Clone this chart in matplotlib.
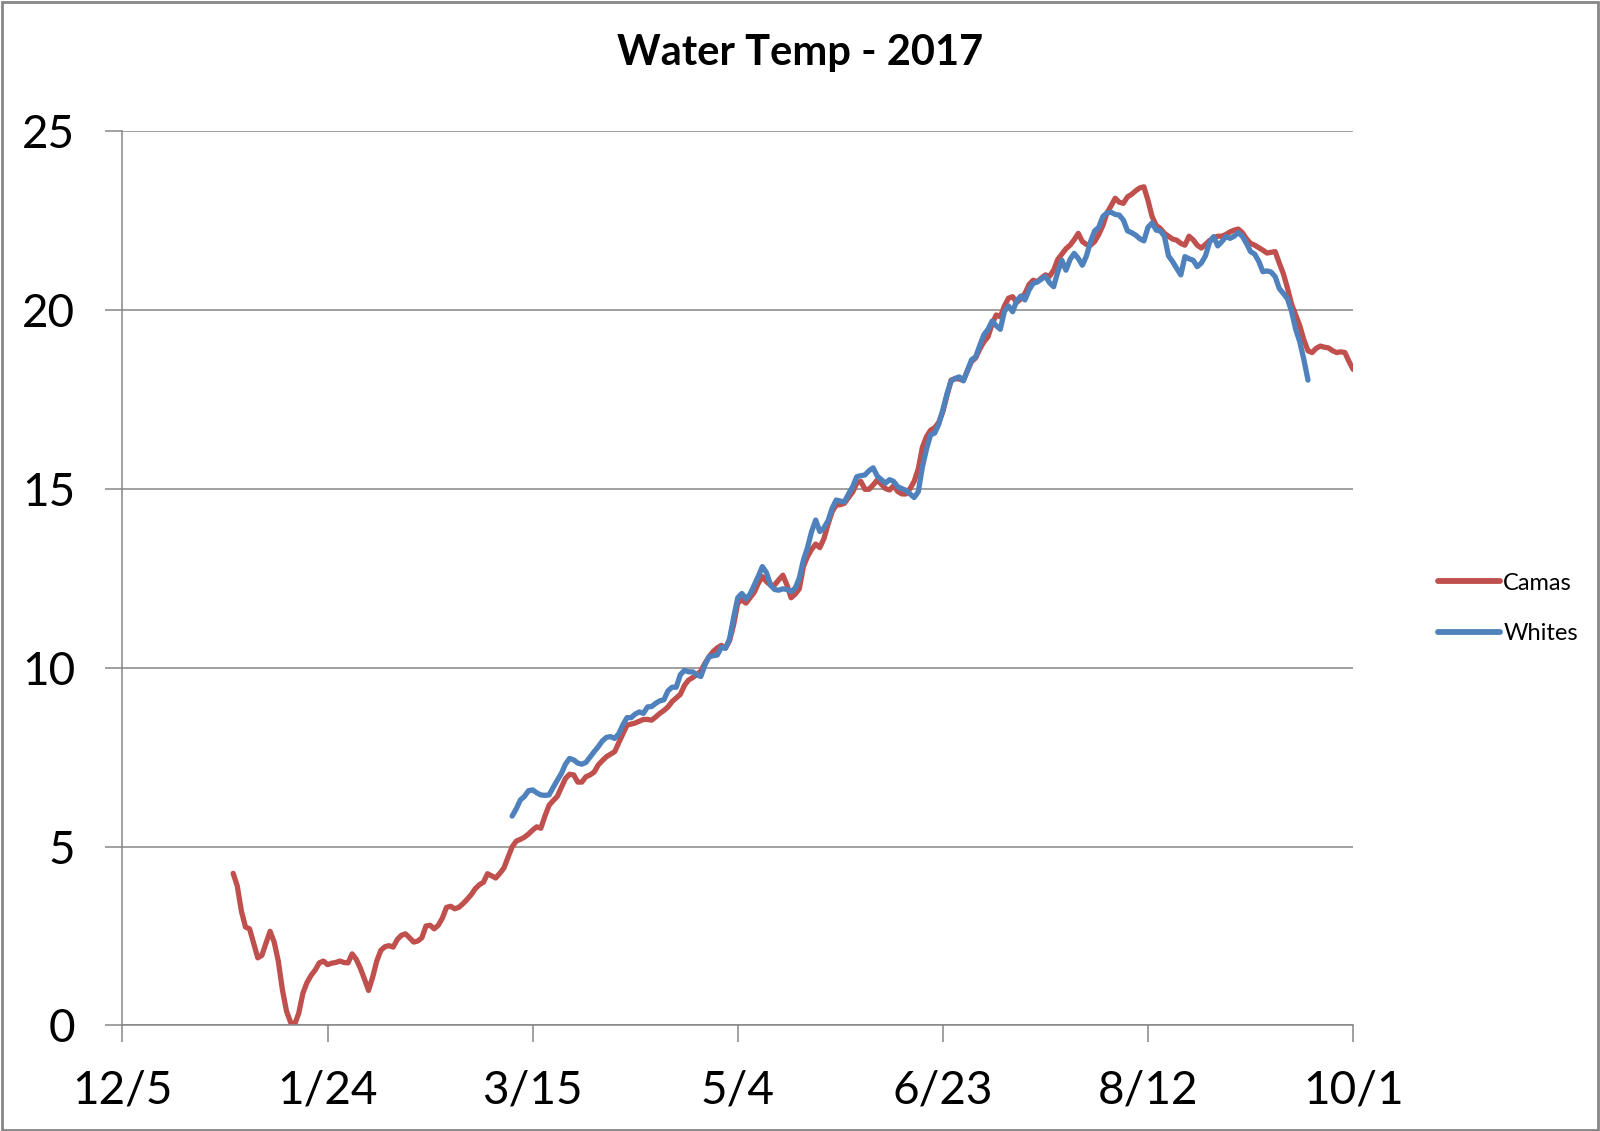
import pandas as pd
import matplotlib.pyplot as plt
import matplotlib.dates as mdates
from matplotlib.patches import Rectangle

# daily water temperature readings (deg C)
camas_start = "2017-01-01"
camas = [4.25, 3.9, 3.2, 2.75, 2.7, 2.3, 1.89, 1.96, 2.3, 2.63, 2.33, 1.8, 1.0, 0.4, 0.09,
         0.03, 0.35, 0.9, 1.2, 1.4, 1.55, 1.75, 1.8, 1.7, 1.74, 1.76, 1.8, 1.76, 1.75, 2.0,
         1.85, 1.6, 1.3, 0.98, 1.35, 1.8, 2.1, 2.2, 2.23, 2.19, 2.4, 2.52, 2.56, 2.45, 2.33,
         2.36, 2.45, 2.78, 2.8, 2.7, 2.8, 3.0, 3.3, 3.33, 3.26, 3.3, 3.4, 3.52, 3.65, 3.82,
         3.93, 4.0, 4.24, 4.18, 4.12, 4.25, 4.4, 4.7, 4.99, 5.15, 5.2, 5.26, 5.35, 5.46, 5.55,
         5.51, 5.85, 6.15, 6.28, 6.4, 6.65, 6.9, 7.02, 7.0, 6.8, 6.8, 6.95, 7.0, 7.08, 7.28,
         7.4, 7.51, 7.58, 7.65, 7.9, 8.15, 8.39, 8.42, 8.45, 8.5, 8.55, 8.55, 8.53, 8.62, 8.72,
         8.8, 8.9, 9.05, 9.15, 9.25, 9.5, 9.65, 9.72, 9.8, 9.9, 10.12, 10.3, 10.45, 10.55, 10.62,
         10.54, 10.75, 11.2, 11.8, 11.89, 11.8, 11.95, 12.1, 12.35, 12.54, 12.4, 12.3, 12.31, 12.45, 12.58,
         12.3, 11.95, 12.05, 12.2, 12.82, 13.1, 13.3, 13.45, 13.35, 13.6, 14.0, 14.35, 14.54, 14.55, 14.59,
         14.75, 14.9, 15.15, 15.2, 14.98, 14.98, 15.1, 15.24, 15.12, 15.0, 14.96, 15.08, 14.92, 14.85, 14.85,
         15.0, 15.2, 15.55, 16.15, 16.45, 16.63, 16.7, 16.85, 17.15, 17.6, 18.03, 18.07, 18.06, 18.02, 18.3,
         18.55, 18.65, 18.9, 19.1, 19.24, 19.6, 19.85, 19.8, 20.1, 20.32, 20.36, 20.2, 20.3, 20.45, 20.7,
         20.82, 20.78, 20.88, 20.97, 20.93, 21.1, 21.4, 21.55, 21.7, 21.8, 21.95, 22.13, 21.9, 21.82, 21.8,
         21.9, 22.1, 22.35, 22.7, 22.9, 23.11, 23.0, 22.97, 23.15, 23.22, 23.32, 23.4, 23.43, 23.05, 22.6,
         22.35, 22.27, 22.13, 22.05, 21.97, 21.94, 21.85, 21.8, 22.05, 21.95, 21.8, 21.72, 21.82, 21.93, 22.0,
         22.05, 22.05, 22.1, 22.17, 22.22, 22.25, 22.15, 21.98, 21.85, 21.8, 21.73, 21.66, 21.58, 21.6, 21.62,
         21.3, 21.0, 20.6, 20.15, 19.85, 19.55, 19.15, 18.85, 18.8, 18.92, 18.98, 18.95, 18.93, 18.85, 18.8,
         18.82, 18.8, 18.55, 18.33]

whites_start = "2017-03-10"
whites = [5.85, 6.05, 6.3, 6.4, 6.56, 6.58, 6.5, 6.44, 6.43, 6.44, 6.65, 6.85, 7.04, 7.3, 7.46,
          7.42, 7.33, 7.3, 7.35, 7.5, 7.65, 7.79, 7.95, 8.05, 8.07, 8.02, 8.15, 8.4, 8.6, 8.6,
          8.7, 8.76, 8.72, 8.9, 8.91, 9.0, 9.07, 9.1, 9.35, 9.45, 9.45, 9.8, 9.92, 9.88, 9.88,
          9.8, 9.75, 10.07, 10.3, 10.33, 10.35, 10.56, 10.54, 10.8, 11.4, 11.95, 12.07, 11.92, 12.05, 12.3,
          12.55, 12.82, 12.65, 12.3, 12.18, 12.16, 12.2, 12.18, 12.12, 12.22, 12.5, 13.0, 13.35, 13.8, 14.12,
          13.8, 13.9, 14.1, 14.45, 14.68, 14.65, 14.63, 14.85, 15.05, 15.33, 15.36, 15.38, 15.5, 15.58, 15.35,
          15.25, 15.15, 15.25, 15.2, 15.05, 15.0, 14.95, 14.85, 14.75, 14.91, 15.6, 16.1, 16.5, 16.55, 16.8,
          17.2, 17.65, 18.0, 18.08, 18.12, 18.01, 18.3, 18.6, 18.68, 19.0, 19.3, 19.45, 19.68, 19.55, 19.45,
          19.95, 20.1, 19.94, 20.25, 20.38, 20.27, 20.55, 20.73, 20.77, 20.85, 20.93, 20.75, 20.64, 21.05, 21.38,
          21.1, 21.4, 21.57, 21.43, 21.24, 21.5, 21.9, 22.2, 22.3, 22.6, 22.7, 22.72, 22.66, 22.64, 22.5,
          22.2, 22.15, 22.08, 21.98, 21.92, 22.3, 22.42, 22.22, 22.2, 22.05, 21.5, 21.34, 21.15, 20.97, 21.48,
          21.42, 21.38, 21.2, 21.3, 21.5, 21.88, 22.04, 21.78, 21.9, 22.04, 21.99, 22.05, 22.15, 22.05, 21.85,
          21.62, 21.55, 21.35, 21.06, 21.08, 21.05, 20.92, 20.59, 20.45, 20.3, 19.95, 19.45, 19.1, 18.6, 18.03]

tick_dates = ["2016-12-05", "2017-01-24", "2017-03-15", "2017-05-04",
              "2017-06-23", "2017-08-12", "2017-10-01"]
tick_labels = ["12/5", "1/24", "3/15", "5/4", "6/23", "8/12", "10/1"]
y_ticks = [0, 5, 10, 15, 20, 25]

plt.rcParams['font.family'] = ['Lato', 'DejaVu Sans']

camas_days = pd.date_range(camas_start, periods=len(camas), freq="D")
whites_days = pd.date_range(whites_start, periods=len(whites), freq="D")

fig = plt.figure(figsize=(16, 11.31), dpi=100)
ax = fig.add_axes([0.0765, 0.0933, 0.7692, 0.7912])

ax.plot(camas_days, camas, color="#C0504D", lw=3.8, label="Camas", solid_capstyle="round")
ax.plot(whites_days, whites, color="#4F81BD", lw=3.8, label="Whites", solid_capstyle="round")

ax.set_xlim(pd.Timestamp(tick_dates[0]), pd.Timestamp(tick_dates[-1]))
ax.set_ylim(0, 25)
ax.set_xticks(pd.to_datetime(tick_dates))
ax.set_xticklabels(tick_labels)
ax.set_yticks(y_ticks)
ax.yaxis.grid(True, color="#868686", lw=1.1)
ax.set_axisbelow(True)

for s in ["top", "right"]:
    ax.spines[s].set_visible(False)
for s in ["left", "bottom"]:
    ax.spines[s].set_color("#868686")
    ax.spines[s].set_linewidth(1.1)

ax.tick_params(axis="x", length=12, width=1.1, color="#868686", pad=20, labelsize=33)
ax.tick_params(axis="y", length=12, width=1.1, color="#868686", pad=22, labelsize=33)

fig.suptitle("Water Temp - 2017", x=0.5, y=0.953, va="center", fontsize=30, fontweight="bold")

leg = ax.legend(loc="center left", bbox_to_anchor=(1.052, 0.466), frameon=False,
                fontsize=17, handlelength=2.6, handletextpad=0.15, labelspacing=1.25)
for h in leg.get_lines():
    h.set_linewidth(4.2)

fig.patches.append(Rectangle((0.001, 0.001), 0.998, 0.997, transform=fig.transFigure,
                             fill=False, edgecolor="#868686", lw=2))

fig.savefig("out.png", dpi=100)
